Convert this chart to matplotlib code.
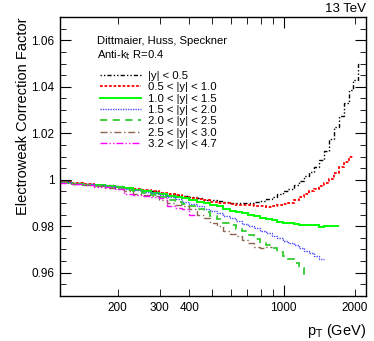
import numpy as np
import matplotlib
matplotlib.use('Agg')
import matplotlib.pyplot as plt
from matplotlib.ticker import FixedLocator, FixedFormatter, MultipleLocator

plt.rcParams['font.family'] = ['Liberation Sans', 'DejaVu Sans']

# common pT bin edges (GeV)
edges = [114, 128, 143, 159, 176, 194, 213, 233, 254, 276,
         299, 323, 348, 374, 401, 430, 460, 491, 524, 558,
         594, 631, 670, 710, 752, 796, 842, 890, 940, 992,
         1046, 1102, 1160, 1220, 1283, 1348, 1416, 1486, 1559, 1635,
         1714, 1796, 1881, 1970, 2062, 2120]

y_00_05 = [0.9995, 0.9985, 0.9982, 0.9979, 0.9976, 0.9972, 0.9966, 0.9960, 0.9955, 0.9950,
           0.9945, 0.9940, 0.9935, 0.9930, 0.9925, 0.9920, 0.9915, 0.9912, 0.9908, 0.9904,
           0.9902, 0.9900, 0.9899, 0.9900, 0.9903, 0.9910, 0.9919, 0.9928, 0.9940, 0.9950,
           0.9962, 0.9978, 0.9995, 1.0018, 1.0035, 1.0055, 1.0085, 1.0125, 1.0175, 1.0225,
           1.0275, 1.0330, 1.0385, 1.0430, 1.0500]
y_05_10 = [0.9993, 0.9985, 0.9981, 0.9978, 0.9975, 0.9970, 0.9965, 0.9960, 0.9955, 0.9950,
           0.9944, 0.9938, 0.9933, 0.9928, 0.9922, 0.9916, 0.9911, 0.9906, 0.9902, 0.9898,
           0.9895, 0.9893, 0.9891, 0.9890, 0.9888, 0.9887, 0.9884, 0.9888, 0.9892, 0.9896,
           0.9900, 0.9912, 0.9926, 0.9938, 0.9950, 0.9962, 0.9975, 0.9988, 1.0002, 1.0030,
           1.0055, 1.0078, 1.0100]
y_10_15 = [0.9985, 0.9980, 0.9979, 0.9977, 0.9975, 0.9970, 0.9965, 0.9958, 0.9952, 0.9945,
           0.9938, 0.9932, 0.9926, 0.9920, 0.9912, 0.9905, 0.9898, 0.9892, 0.9885, 0.9875,
           0.9866, 0.9860, 0.9855, 0.9850, 0.9843, 0.9836, 0.9830, 0.9825, 0.9820, 0.9816,
           0.9813, 0.9810, 0.9807, 0.9807, 0.9806, 0.9805, 0.9798, 0.9800, 0.9802, 0.9803]
y_15_20 = [0.9990, 0.9983, 0.9980, 0.9977, 0.9973, 0.9968, 0.9962, 0.9955, 0.9948, 0.9942,
           0.9935, 0.9926, 0.9916, 0.9905, 0.9895, 0.9885, 0.9876, 0.9866, 0.9855, 0.9845,
           0.9835, 0.9822, 0.9810, 0.9800, 0.9792, 0.9780, 0.9770, 0.9758, 0.9748, 0.9738,
           0.9728, 0.9718, 0.9706, 0.9695, 0.9685, 0.9672, 0.9658]
y_20_25 = [0.9988, 0.9982, 0.9979, 0.9975, 0.9970, 0.9965, 0.9958, 0.9950, 0.9942, 0.9935,
           0.9927, 0.9915, 0.9905, 0.9895, 0.9885, 0.9875, 0.9862, 0.9845, 0.9830, 0.9816,
           0.9805, 0.9790, 0.9778, 0.9762, 0.9745, 0.9732, 0.9720, 0.9705, 0.9688, 0.9672,
           0.9658, 0.9640, 0.9622, 0.9590]
y_25_30 = [0.9995, 0.9982, 0.9978, 0.9972, 0.9966, 0.9960, 0.9950, 0.9940, 0.9935, 0.9930,
           0.9915, 0.9900, 0.9893, 0.9885, 0.9873, 0.9850, 0.9835, 0.9815, 0.9800, 0.9780,
           0.9768, 0.9756, 0.9742, 0.9728, 0.9710, 0.9705, 0.9710]
y_32_47 = [0.9985, 0.9980, 0.9976, 0.9970, 0.9967, 0.9962, 0.9940, 0.9935, 0.9932, 0.9928,
           0.9920, 0.9885, 0.9878, 0.9875, 0.9850]

labels = ['|y| < 0.5', '0.5 < |y| < 1.0', '1.0 < |y| < 1.5', '1.5 < |y| < 2.0',
          '2.0 < |y| < 2.5', '2.5 < |y| < 3.0', '3.2 < |y| < 4.7']
series = [y_00_05, y_05_10, y_10_15, y_15_20, y_20_25, y_25_30, y_32_47]
colors = ['black', 'red', '#00ff00', '#4d4dff', '#33cc33', '#8c6450', '#ff00ff']
styles = [(0, (1, 1.5, 1, 1.5, 3, 1.5)), (0, (1.5, 1)), '-', (0, (1, 0.8)),
          (0, (4, 3)), (0, (5, 2, 1, 2)), (0, (5, 1.5, 1, 1.5, 1, 1.5))]
widths = [1.0, 1.3, 1.4, 1.0, 1.3, 1.0, 1.0]

fig = plt.figure(figsize=(3.74, 3.41), dpi=100)
ax = fig.add_axes([0.160, 0.132, 0.819, 0.818])

for vals, lab, c, ls, lw in zip(series, labels, colors, styles, widths):
    e = edges[:len(vals) + 1]
    ax.stairs(vals, e, color=c, linestyle=ls, linewidth=lw, label=lab, baseline=None)

ax.set_xscale('log')
ax.set_xlim(114, 2230)
ax.set_ylim(0.95, 1.07)

# ROOT-like ticks
ax.xaxis.set_major_locator(FixedLocator([1000]))
ax.xaxis.set_major_formatter(FixedFormatter(['1000']))
minors = [200, 300, 400, 500, 600, 700, 800, 900, 2000]
ax.xaxis.set_minor_locator(FixedLocator(minors))
ax.xaxis.set_minor_formatter(FixedFormatter(['200', '300', '400', '', '', '', '', '', '2000']))
ax.yaxis.set_major_locator(FixedLocator([0.96, 0.98, 1.0, 1.02, 1.04, 1.06]))
ax.yaxis.set_major_formatter(FixedFormatter(['0.96', '0.98', '1', '1.02', '1.04', '1.06']))
ax.yaxis.set_minor_locator(MultipleLocator(0.005))
ax.tick_params(which='both', direction='in', top=True, right=True, labelsize=8.5, pad=4)
ax.tick_params(which='major', length=8)
ax.tick_params(which='minor', length=4)
ax.tick_params(axis='x', which='minor', length=5, labelsize=8.5, pad=4)
for s in ax.spines.values():
    s.set_linewidth(1.0)

ax.set_ylabel('Electroweak Correction Factor', loc='top', fontsize=10.5, labelpad=1)
ax.set_xlabel(r'p$_{\rm T}$ (GeV)', loc='right', fontsize=10.5, labelpad=6)
fig.text(0.979, 0.955, '13 TeV', ha='right', va='bottom', fontsize=9.5)

ax.text(0.122, 0.914, 'Dittmaier, Huss, Speckner', transform=ax.transAxes, fontsize=8.1, va='center')
ax.text(0.122, 0.862, r'Anti-k$_{\rm t}$ R=0.4', transform=ax.transAxes, fontsize=8.1, va='center')
ax.legend(loc='upper left', bbox_to_anchor=(0.105, 0.836), frameon=False, fontsize=8.2,
          handlelength=3.6, handletextpad=0.6, labelspacing=0.12, borderpad=0.2)

fig.savefig('out.png', dpi=100)
